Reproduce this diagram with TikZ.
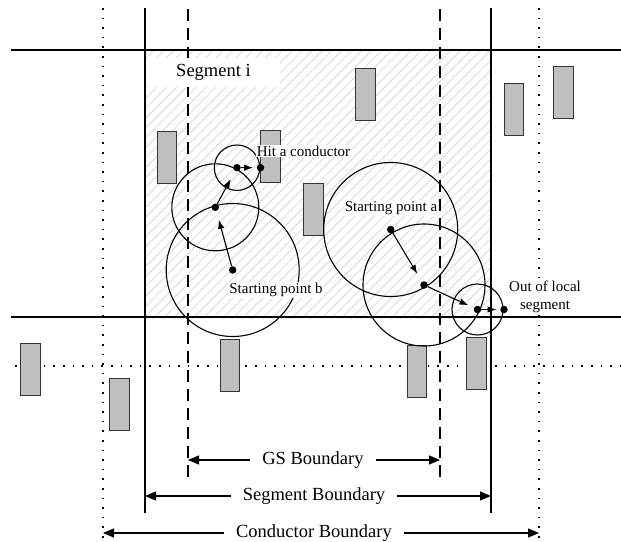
\documentclass[tikz,border=0pt]{standalone}
\usepackage{fontspec}
\setmainfont{Liberation Serif}
\usetikzlibrary{arrows.meta,patterns.meta}

\begin{document}
\begin{tikzpicture}[x=1pt, y=-1pt,
  cond/.style = {draw=black!80, fill=black!25, line width=0.8pt, minimum width=19.5pt, minimum height=52pt, inner sep=0pt},
  dot/.style = {circle, fill, inner sep=0pt, minimum size=7.5pt},
  small/.style = {fill=white, inner sep=1pt, font=\fontsize{15}{18}\selectfont},
  big/.style = {fill=white, inner ysep=2pt, inner xsep=12pt, font=\fontsize{18.5}{22}\selectfont},
  walk/.style = {-{Latex[length=9pt,width=6.5pt]}, line width=1.1pt, shorten >=9pt},
  bnd/.style = {-{Triangle[length=11pt,width=9pt]}, line width=1.1pt},
  gsline/.style = {line width=1.4pt, dash pattern=on 12pt off 7pt},
  cline/.style = {line width=1.6pt, dash pattern=on 1.6pt off 8pt}]
\useasboundingbox (0,0) rectangle (621,541);

% hatched local segment
\fill[pattern={Lines[angle=45,distance=7pt,line width=0.8pt]}, pattern color=black!16] (146,50) rectangle (491,318);

% boundaries
\coordinate (tl) at (11,50);  \coordinate (tr) at (621,50);
\coordinate (bl) at (11,317); \coordinate (br) at (621,317);
\coordinate (hl) at (15,366); \coordinate (hr) at (621,366);
\draw[line width=1.3pt] (tl) -- (tr);
\draw[line width=1.3pt] (bl) -- (br);
\draw[cline] (hl) -- (hr);
\foreach \x/\n in {145/segL, 491/segR} {
  \coordinate (\n top) at (\x,8); \coordinate (\n bot) at (\x,513);
  \draw[line width=1.3pt] (\n top) -- (\n bot);
}
\foreach \x/\n in {188/gsL, 440/gsR} {
  \coordinate (\n top) at (\x,9); \coordinate (\n bot) at (\x,483);
  \draw[gsline] (\n top) -- (\n bot);
}
\foreach \x/\n in {103/cdL, 539/cdR} {
  \coordinate (\n top) at (\x,8); \coordinate (\n bot) at (\x,541);
  \draw[cline] (\n top) -- (\n bot);
}

% conductors
\node[cond] (c1) at (167,157) {};
\node[cond] (c2) at (270.2,156.2) {};
\node[cond] (c3) at (313.3,209.5) {};
\node[cond] (c4) at (365.4,94.5) {};
\node[cond] (c5) at (514,109.5) {};
\node[cond] (c6) at (563.5,92) {};
\node[cond] (c7) at (30.5,369.5) {};
\node[cond] (c8) at (119.5,404) {};
\node[cond] (c9) at (230,365.5) {};
\node[cond] (c10) at (417,371) {};
\node[cond] (c11) at (476.5,363.5) {};

% walk from b
\node[dot] (pb) at (232.7,270) {};
\node[dot] (pb2) at (215.3,207.3) {};
\node[dot] (pb3) at (237,167.7) {};
\node[dot] (pb4) at (260.5,167.7) {};
\draw[line width=1.1pt] (pb.center) circle[radius=66.5];
\draw[line width=1.1pt] (pb2.center) circle[radius=43.5];
\draw[line width=1.1pt] (pb3.center) circle[radius=22.7];
\draw[walk] (pb) -- (pb2);
\draw[walk] (pb2) -- (pb3);
\draw[walk, shorten >=3.5pt] (pb3) -- (pb4);

% walk from a
\node[dot] (pa) at (390.7,229.5) {};
\node[dot] (pa2) at (424,285) {};
\node[dot] (pa3) at (477.5,309.5) {};
\node[dot] (pa4) at (504,309.5) {};
\draw[line width=1.1pt] (pa.center) circle[radius=67];
\draw[line width=1.1pt] (pa2.center) circle[radius=61];
\draw[line width=1.1pt] (pa3.center) circle[radius=25.5];
\draw[walk] (pa) -- (pa2);
\draw[walk, shorten >=6pt] (pa2) -- (pa3);
\draw[walk, shorten >=3.5pt] (pa3) -- (pa4);

% labels
\node[big, inner xsep=0pt, minimum width=133pt, minimum height=29pt] (segi) at (213.5,72) {Segment i};
\node[small] (hit) at (303.5,151) {Hit a conductor};
\node[small] (sb) at (276,290) {Starting point b};
\node[small] (sa) at (391,208) {Starting point a};
\node[small, align=center, inner sep=0pt] (out) at (545,297) {Out of local\\segment};

% boundary arrows
\node[big] (gs) at (313,460) {GS Boundary};
\node[big] (sg) at (314,496) {Segment Boundary};
\node[big] (cd) at (314,533) {Conductor Boundary};
\coordinate (gsa) at (188,460); \coordinate (gsb) at (440,460);
\coordinate (sga) at (145,496); \coordinate (sgb) at (491,496);
\coordinate (cda) at (103,533); \coordinate (cdb) at (539,533);
\draw[bnd] (gs) -- (gsa);
\draw[bnd] (gs) -- (gsb);
\draw[bnd] (sg) -- (sga);
\draw[bnd] (sg) -- (sgb);
\draw[bnd] (cd) -- (cda);
\draw[bnd] (cd) -- (cdb);
\end{tikzpicture}
\end{document}
